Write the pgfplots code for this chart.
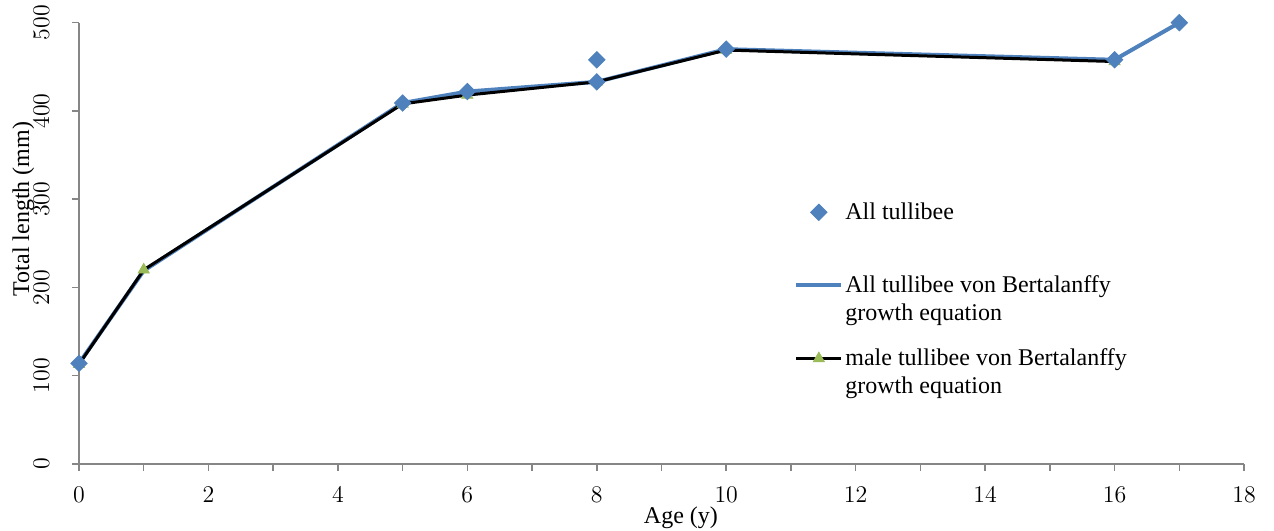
\documentclass[border=0pt]{standalone}
\usepackage{fontspec}
\setmainfont{Liberation Serif}
\usepackage{pgfplots}
\pgfplotsset{compat=1.18}
\definecolor{xlblue}{RGB}{79,129,189}
\definecolor{xlgreen}{RGB}{155,187,89}
\definecolor{axgray}{RGB}{134,134,134}
\begin{document}
\fontsize{12bp}{14bp}\selectfont
\begin{tikzpicture}
\useasboundingbox (-39.5bp,-33.5bp) rectangle (597.5bp,232bp);
\begin{axis}[
  at={(0,0)}, anchor=south west,
  scale only axis, width=582.5bp, height=220.65bp,
  xmin=0, xmax=18, ymin=0, ymax=500,
  axis x line=bottom, axis y line=left,
  axis line style={draw=axgray, line width=0.75bp, -},
  xtick={0,2,...,18}, minor xtick={1,3,...,17},
  ytick={0,100,...,500},
  tick align=outside,
  major tick length=3.5bp, minor tick length=3.5bp,
  every tick/.style={draw=axgray, line width=0.75bp},
  minor tick style={draw=axgray, line width=0.75bp},
  major tick style={draw=axgray, line width=0.75bp},
  tick label style={font=\fontsize{11.5bp}{14bp}\selectfont},
  xticklabel style={anchor=base, yshift=-15.5bp},
  yticklabel style={rotate=90, anchor=base, yshift=11.5bp},
  label style={font=\fontsize{12bp}{14bp}\selectfont},
  every axis x label/.style={at={(axis description cs:0.5167,0)}, anchor=base, yshift=-29.5bp},
  every axis y label/.style={at={(axis description cs:0,0.578)}, xshift=-25bp, rotate=90, anchor=base},
  xlabel={Age (y)},
  ylabel={Total length (mm)},
  legend image code/.code={\draw[mark repeat=2,mark phase=2,#1] plot coordinates {(0bp,17.4bp) (11.25bp,17.4bp) (22.5bp,17.4bp)};},
  legend style={draw=none, fill=none, at={(0.6137,0.598)}, anchor=north west,
    inner sep=0pt, row sep=7.9bp,
    nodes={inner sep=1bp, text depth=, align=left, font=\fontsize{12bp}{14bp}\selectfont},
    cells={anchor=base west},
    /tikz/every odd column/.append style={column sep=0bp}},
]
\addlegendimage{only marks, mark=square*, mark size=2.85bp, mark options={rotate=45, fill=xlblue, draw=xlblue, line width=0.5bp}}
\addlegendentry{All tullibee\\\strut}
\addplot[color=xlblue, line width=2bp, mark=none] coordinates {
  (0,114) (1,219) (5,409) (6,422) (8,433) (10,470) (16,458) (17,500)};
\addlegendentry{All tullibee von Bertalanffy\\growth equation\strut}
\addplot[color=black, line width=1.5bp, mark=triangle*, mark size=3.2bp,
  mark options={fill=xlgreen, draw=xlgreen, line width=0.4bp}] coordinates {
  (0,113) (1,220) (5,408) (6,418) (8,433) (10,469) (16,456)};
\addlegendentry{male tullibee von Bertalanffy\\growth equation\strut}
\addplot[only marks, mark=square*, mark size=2.85bp, mark options={rotate=45, fill=xlblue, draw=xlblue, line width=0.5bp}, forget plot] coordinates {
  (0,114) (5,409) (6,422) (8,458) (8,433) (10,470) (16,458) (17,500)};
\end{axis}
\end{tikzpicture}
\end{document}
